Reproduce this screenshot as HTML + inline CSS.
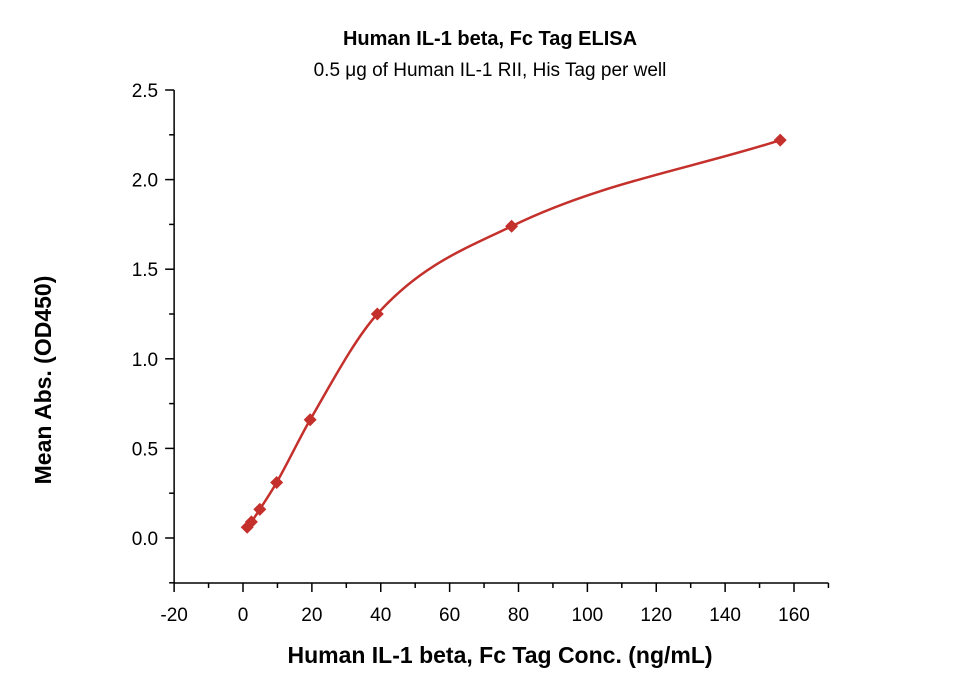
<!DOCTYPE html>
<html><head><meta charset="utf-8"><style>
body{margin:0;background:#fff;font-family:"Liberation Sans",sans-serif;}
svg{display:block}
</style></head><body>
<svg id="chart" width="959" height="685">
<text x="490" y="45" text-anchor="middle" font-size="20" font-weight="bold">Human IL-1 beta, Fc Tag ELISA</text>
<text x="490" y="76" text-anchor="middle" font-size="19">0.5 μg of Human IL-1 RII, His Tag per well</text>
<text x="500" y="663" text-anchor="middle" font-size="23" font-weight="bold">Human IL-1 beta, Fc Tag Conc. (ng/mL)</text>
<text transform="translate(51,380) rotate(-90)" text-anchor="middle" font-size="23" font-weight="bold">Mean Abs. (OD450)</text>
<g id="axes"></g><g id="series"></g>
</svg>
<script>
const concs=[1.22,2.44,4.88,9.77,19.5,39,78,156];
const absVals=[0.06,0.09,0.16,0.31,0.66,1.25,1.74,2.22];
const xTicks=[-20,0,20,40,60,80,100,120,140,160];
const yTicks=[0.0,0.5,1.0,1.5,2.0,2.5];
const NS="http://www.w3.org/2000/svg";
const X=v=>243+(v)*(551/160);
const Y=v=>538-v*(448/2.5);
const axes=document.getElementById('axes'),ser=document.getElementById('series');
function mk(tag,attrs,parent){const e=document.createElementNS(NS,tag);for(const k in attrs)e.setAttribute(k,attrs[k]);parent.appendChild(e);return e;}
const x0=X(-20),yb=583;
let l=mk('line',{x1:x0,y1:yb,x2:X(170),y2:yb,stroke:'#000','stroke-width':1.5},axes);


l=mk('line',{x1:x0,y1:yb,x2:x0,y2:Y(2.5),stroke:'#000','stroke-width':1.5},axes);


for(let v=-20;v<=170;v+=10){const maj=v%20===0;mk('line',{x1:X(v),y1:yb,x2:X(v),y2:yb+(maj?9:5),stroke:'#000','stroke-width':1.5},axes);}
xTicks.forEach(v=>{const t=mk('text',{x:X(v),y:yb+38,'text-anchor':'middle','font-size':19},axes);t.textContent=v;

});
for(let v=-0.25;v<=2.5001;v+=0.25){const maj=Math.abs(v*2-Math.round(v*2))<1e-6;mk('line',{x1:x0,y1:Y(v),x2:x0-(maj?9:5),y2:Y(v),stroke:'#000','stroke-width':1.5},axes);}
yTicks.forEach(v=>{const t=mk('text',{x:x0-16,y:Y(v)+7,'text-anchor':'end','font-size':19},axes);t.textContent=v.toFixed(1);

});
const n=concs.length,d=[],m=[];
for(let i=0;i<n-1;i++)d.push((absVals[i+1]-absVals[i])/(concs[i+1]-concs[i]));
m[0]=d[0];m[n-1]=d[n-2];
for(let i=1;i<n-1;i++)m[i]=d[i-1]*d[i]<=0?0:(d[i-1]+d[i])/2;
let p='M'+X(concs[0])+','+Y(absVals[0]);
for(let i=0;i<n-1;i++){const h=concs[i+1]-concs[i];
p+=' C'+X(concs[i]+h/3)+','+Y(absVals[i]+m[i]*h/3)+' '+X(concs[i+1]-h/3)+','+Y(absVals[i+1]-m[i+1]*h/3)+' '+X(concs[i+1])+','+Y(absVals[i+1]);}
const path=mk('path',{d:p,fill:'none',stroke:'#c4302b','stroke-width':2.5},ser);


concs.forEach((c,i)=>{const cx=X(c),cy=Y(absVals[i]),r=6.5;
const pt=mk('polygon',{points:`${cx},${cy-r} ${cx+r},${cy} ${cx},${cy+r} ${cx-r},${cy}`,fill:'#c4302b'},ser);

});
</script>
</body></html>
